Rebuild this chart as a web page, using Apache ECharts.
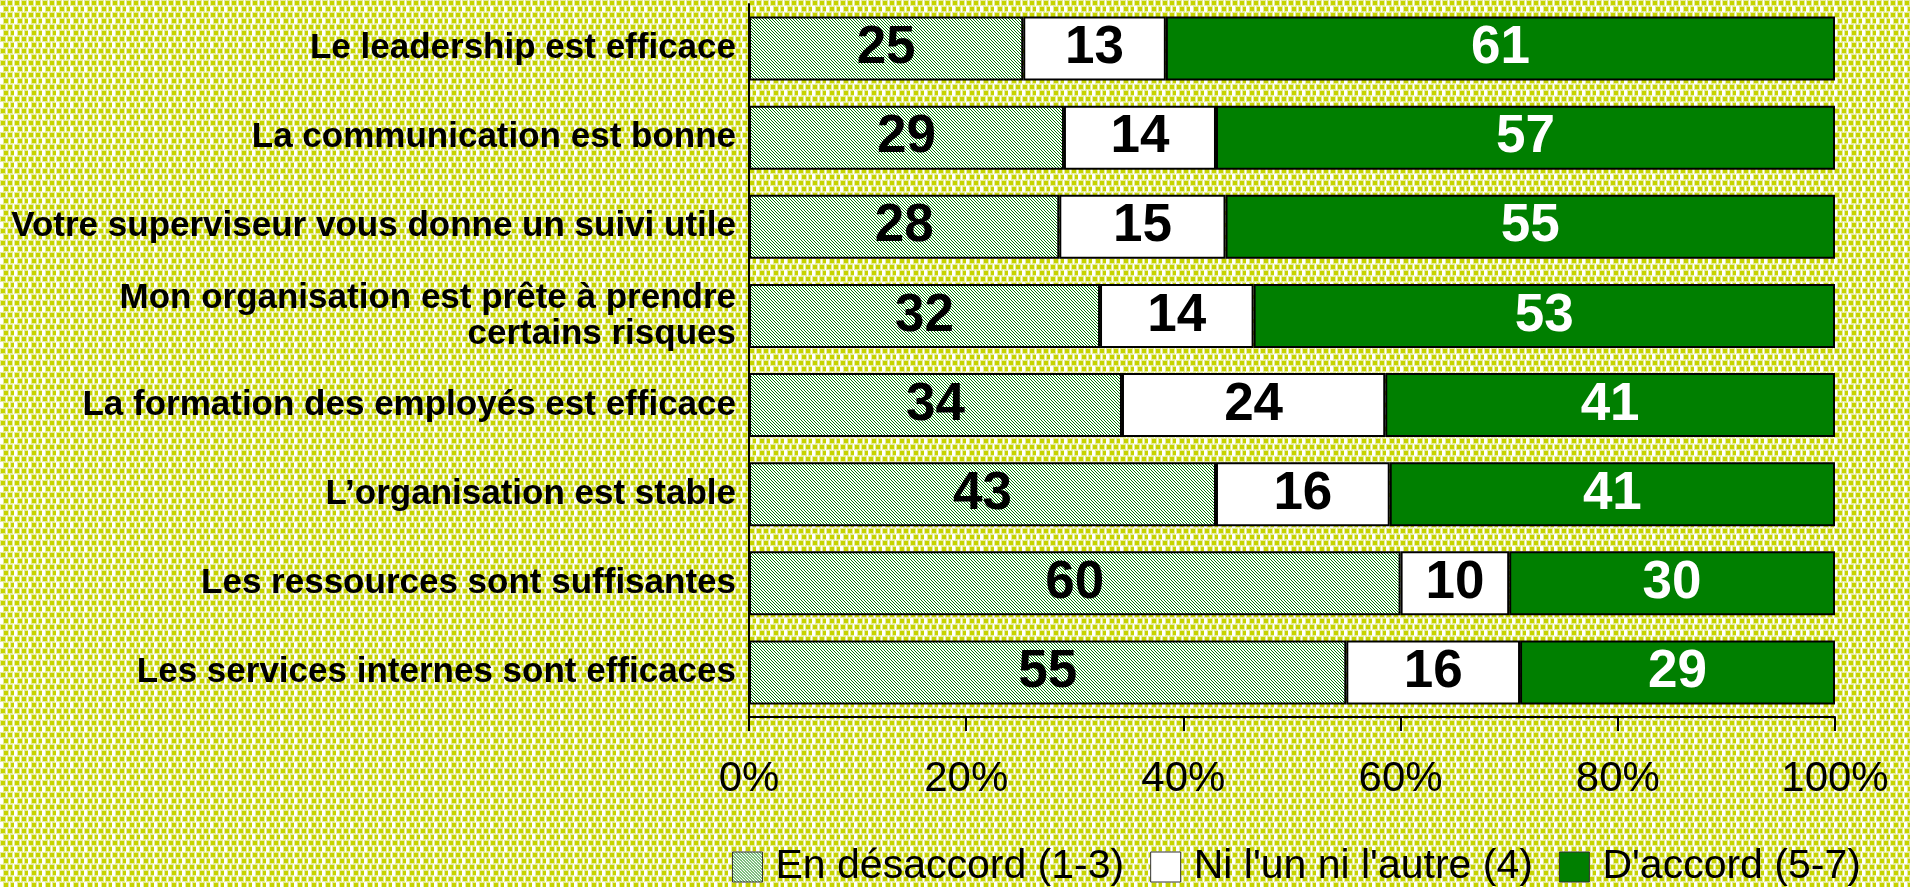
<!DOCTYPE html>
<html>
<head>
<meta charset="utf-8">
<script src="https://cdn.jsdelivr.net/npm/echarts@6/dist/echarts.min.js"></script>
<style>
  html, body { margin: 0; padding: 0; }
  #chart { width: 1910px; height: 887px; }
</style>
</head>
<body>
<div id="chart"></div>
<script>
// libellés des catégories (de haut en bas)
var categories = [
    'Le leadership est efficace',
    'La communication est bonne',
    'Votre superviseur vous donne un suivi utile',
    'Mon organisation est prête à prendre\ncertains risques',
    'La formation des employés est efficace',
    'L\u2019organisation est stable',
    'Les ressources sont suffisantes',
    'Les services internes sont efficaces'
];
// pourcentages
var desaccord = [25, 29, 28, 32, 34, 43, 60, 55];
var neutre = [13, 14, 15, 14, 24, 16, 10, 16];
var accord = [61, 57, 55, 53, 41, 41, 30, 29];
var seriesNames = ['En désaccord (1-3)', "Ni l'un ni l'autre (4)", "D'accord (5-7)"];
var xTicks = [0, 20, 40, 60, 80, 100];

// fond à pois jaune-vert
function makeDots() {
    var c = document.createElement('canvas');
    c.width = 14; c.height = 12;
    var ctx = c.getContext('2d');
    ctx.fillStyle = '#ffffff';
    ctx.fillRect(0, 0, 14, 12);
    var pts = [[1, 1], [8, 1], [4, 7], [11, 7]];
    pts.forEach(function (p) {
        ctx.fillStyle = '#e6ec9e';
        ctx.fillRect(p[0] - 1, p[1] - 1, 6, 6);
        ctx.fillStyle = '#c6d300';
        ctx.fillRect(p[0], p[1], 4, 4);
    });
    return c;
}
// hachures vertes pour "En désaccord"
function makeHatch() {
    var c = document.createElement('canvas');
    c.width = 3; c.height = 3;
    var ctx = c.getContext('2d');
    ctx.fillStyle = '#ffffff';
    ctx.fillRect(0, 0, 3, 3);
    ctx.fillStyle = '#007f00';
    for (var i = 0; i < 3; i++) ctx.fillRect(i, i, 1, 1);
    return c;
}
document.getElementById('chart').style.background = 'url(' + makeDots().toDataURL() + ') repeat';

var hatch = { image: makeHatch(), repeat: 'repeat' };
var FONT = '"Liberation Sans", Arial, Helvetica, sans-serif';

// normaliser chaque barre à 100 %
var raw = [desaccord, neutre, accord];
var totals = desaccord.map(function (v, i) { return desaccord[i] + neutre[i] + accord[i]; });
function norm(arr) {
    return arr.map(function (v, i) { return v / totals[i] * 100; });
}

var colors = [hatch, '#ffffff', '#007f00'];
var labelColors = ['#000', '#000', '#fff'];

var series = raw.map(function (arr, k) {
    return {
        name: seriesNames[k],
        type: 'bar',
        stack: 'total',
        barWidth: 64,
        data: norm(arr),
        itemStyle: { color: colors[k], borderColor: '#000', borderWidth: 2 },
        label: {
            show: true,
            position: 'inside',
            color: labelColors[k],
            fontFamily: FONT,
            fontWeight: 'bold',
            fontSize: 53,
            formatter: function (p) { return raw[k][p.dataIndex]; }
        },
        emphasis: { disabled: true }
    };
});

var myChart = echarts.init(document.getElementById('chart'));
var option = {
    backgroundColor: 'transparent',
    animation: false,
    grid: { left: 749, right: 75, top: 4, bottom: 170, containLabel: false },
    legend: {
        left: 727,
        top: 841,
        icon: 'rect',
        itemWidth: 30,
        itemHeight: 30,
        itemGap: 26,
        itemStyle: { borderColor: '#333', borderWidth: 1 },
        textStyle: { fontFamily: FONT, fontSize: 41, color: '#000', lineHeight: 42, padding: [0, 0, 0, 8] },
        data: seriesNames
    },
    xAxis: {
        type: 'value',
        min: xTicks[0],
        max: xTicks[xTicks.length - 1],
        interval: 20,
        axisLine: { show: true, lineStyle: { color: '#000', width: 2 } },
        axisTick: { show: true, length: 14, lineStyle: { color: '#000', width: 2 } },
        splitLine: { show: false },
        axisLabel: {
            margin: 41,
            fontFamily: FONT,
            fontSize: 42,
            color: '#000',
            formatter: '{value}%'
        }
    },
    yAxis: {
        type: 'category',
        inverse: true,
        data: categories,
        axisLine: { show: true, lineStyle: { color: '#000', width: 2 } },
        axisTick: { show: false },
        axisLabel: {
            margin: 13,
            fontFamily: FONT,
            fontWeight: 'bold',
            fontSize: 35,
            lineHeight: 36,
            color: '#000'
        }
    },
    series: series
};
myChart.setOption(option);
</script>
</body>
</html>
